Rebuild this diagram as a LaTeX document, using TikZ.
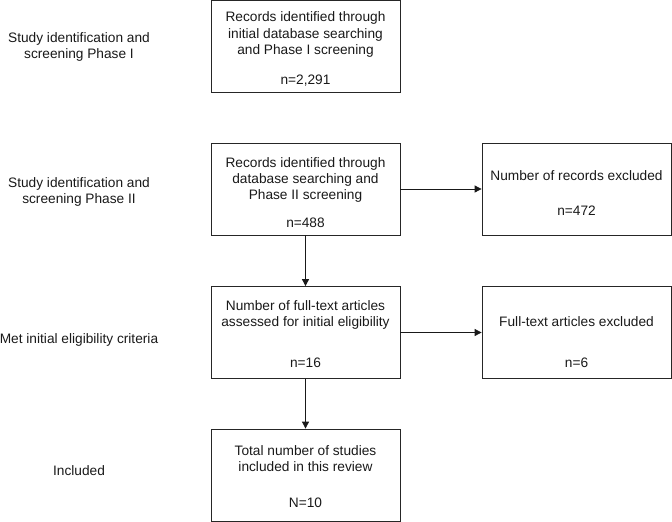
\documentclass[tikz,border=0pt]{standalone}
\usepackage{fontspec}
\setmainfont{Liberation Sans}
\usetikzlibrary{arrows.meta}
\begin{document}
\begin{tikzpicture}[x=1pt,y=-1pt,
  boxnode/.style={draw=black!85,line width=0.8pt,minimum width=189pt,minimum height=92pt,inner sep=0pt,fill=none},
  txt/.style={anchor=base,inner sep=0pt,text=black!90,font=\fontsize{13.7}{16.5}\selectfont},
  conn/.style={draw=black!90,line width=0.8pt,-{Triangle[length=7pt,width=7pt]}}]
\useasboundingbox (0,0) rectangle (672,522);
% boxes
\node[boxnode] (b1) at (305.5,46.5) {};
\node[boxnode] (b2) at (305.5,189) {};
\node[boxnode] (b3) at (576.5,189) {};
\node[boxnode] (b4) at (305.5,332.5) {};
\node[boxnode] (b5) at (576.5,332.5) {};
\node[boxnode] (b6) at (305.5,475) {};
% left labels
\node[txt] (l1a) at (79,42) {Study identification and};
\node[txt] (l1b) at (79,58) {screening Phase I};
\node[txt] (l2a) at (79,187) {Study identification and};
\node[txt] (l2b) at (79,203) {screening Phase II};
\node[txt] (l3) at (79,343) {Met initial eligibility criteria};
\node[txt] (l4) at (79,475) {Included};
% box 1
\node[txt] (t1a) at (305.5,21) {Records identified through};
\node[txt] (t1b) at (305.5,38) {initial database searching};
\node[txt] (t1c) at (305.5,54) {and Phase I screening};
\node[txt] (t1d) at (305.5,84) {n=2,291};
% box 2
\node[txt] (t2a) at (305.5,167) {Records identified through};
\node[txt] (t2b) at (305.5,183) {database searching and};
\node[txt] (t2c) at (305.5,199) {Phase II screening};
\node[txt] (t2d) at (305.5,227) {n=488};
% box 3
\node[txt] (t3a) at (576.5,180) {Number of records excluded};
\node[txt] (t3b) at (576.5,215) {n=472};
% box 4
\node[txt] (t4a) at (305.5,310) {Number of full-text articles};
\node[txt] (t4b) at (305.5,326) {assessed for initial eligibility};
\node[txt] (t4c) at (305.5,367) {n=16};
% box 5
\node[txt] (t5a) at (576.5,326) {Full-text articles excluded};
\node[txt] (t5b) at (576.5,367) {n=6};
% box 6
\node[txt] (t6a) at (305.5,455) {Total number of studies};
\node[txt] (t6b) at (305.5,471) {included in this review};
\node[txt] (t6c) at (305.5,507) {N=10};
% connectors
\draw[conn] (b2.east) -- (b3.west);
\draw[conn] (b2.south) -- (b4.north);
\draw[conn] (b4.east) -- (b5.west);
\draw[conn] (b4.south) -- (b6.north);
\end{tikzpicture}
\end{document}
